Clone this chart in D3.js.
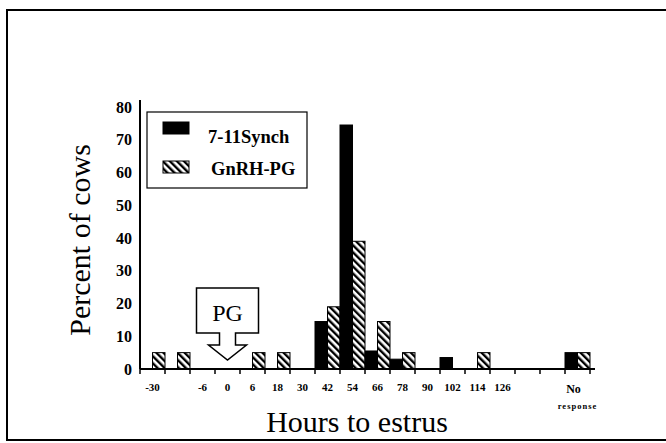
<!DOCTYPE html>
<html>
<head>
<meta charset="utf-8">
<script src="https://cdn.jsdelivr.net/npm/d3@7/dist/d3.min.js"></script>
<style>
body { margin: 0; background: #fff; }
svg { display: block; }
</style>
</head>
<body>
<svg id="chart" width="666" height="443"></svg>
<script>
var categories = ['-30', '-18', '-6', '0', '6', '18', '30', '42', '54', '66', '78', '90', '102', '114', '126', '138', '150', 'No response'];
var tickLabels = ['-30', '', '-6', '0', '6', '18', '30', '42', '54', '66', '78', '90', '102', '114', '126', '', '', 'No response'];
var seriesNames = ['7-11Synch', 'GnRH-PG'];
var synchValues = [0, 0, 0, 0, 0, 0, 0, 14.5, 74.5, 5.5, 3, 0, 3.5, 0, 0, 0, 0, 5];
var gnrhValues = [5, 5, 0, 0, 5, 5, 0, 19, 39, 14.5, 5, 0, 0, 5, 0, 0, 0, 5];
var yTicks = [0, 10, 20, 30, 40, 50, 60, 70, 80];

var svg = d3.select('#chart')
	.style('font-family', '"Liberation Serif", "Times New Roman", serif');
var serif = '"Liberation Serif", "Times New Roman", serif';

var x = d3.scaleBand().domain(categories).range([140, 590]).padding(0);
var xs = d3.scaleBand().domain(seriesNames).range([0, x.bandwidth()]).padding(0);
var y = d3.scaleLinear().domain([0, 80]).range([369, 107]);

// hatch pattern, stripes running top-left to bottom-right
var defs = svg.append('defs');
var pat = defs.append('pattern')
	.attr('id', 'hatch')
	.attr('patternUnits', 'userSpaceOnUse')
	.attr('width', 5)
	.attr('height', 5)
	.attr('patternTransform', 'rotate(-45)');
pat.append('rect').attr('width', 5).attr('height', 5).attr('fill', '#fff');
pat.append('rect').attr('x', 0).attr('width', 2.4).attr('height', 5).attr('fill', '#000');

// outer frame
svg.append('rect')
	.attr('x', 7).attr('y', 10)
	.attr('width', 670).attr('height', 430)
	.attr('fill', 'none')
	.attr('stroke', '#000')
	.attr('stroke-width', 2);

// bars
var rows = categories.map(function (c, i) {
	return [{cat: c, s: seriesNames[0], v: synchValues[i]}, {cat: c, s: seriesNames[1], v: gnrhValues[i]}];
});
var bars = [].concat.apply([], rows).filter(function (d) { return d.v > 0; });

svg.append('g').selectAll('rect')
	.data(bars)
	.enter().append('rect')
	.attr('x', function (d) { return x(d.cat) + xs(d.s); })
	.attr('y', function (d) { return y(d.v); })
	.attr('width', xs.bandwidth())
	.attr('height', function (d) { return y(0) - y(d.v); })
	.attr('fill', function (d) { return d.s === seriesNames[0] ? '#000' : 'url(#hatch)'; })
	.attr('stroke', '#000')
	.attr('stroke-width', 1);

// y axis
var yAxis = svg.append('g')
	.attr('transform', 'translate(140,0)')
	.call(d3.axisLeft(y).tickValues(yTicks).tickSize(0).tickPadding(8));
yAxis.attr('font-family', null).attr('font-size', null);
yAxis.select('.domain').attr('stroke-width', 2).attr('d', 'M0,100V369');
yAxis.selectAll('text')
	.style('font-family', serif)
	.style('font-weight', 'bold')
	.style('font-size', '16px');

// x axis
var xAxis = svg.append('g')
	.attr('transform', 'translate(0,369)');
xAxis.append('line')
	.attr('x1', 140).attr('x2', 595)
	.attr('stroke', '#000').attr('stroke-width', 2);
xAxis.selectAll('.tk')
	.data(categories.concat(['end']))
	.enter().append('line')
	.attr('class', 'tk')
	.attr('x1', function (d) { return d === 'end' ? x.range()[1] : x(d); })
	.attr('x2', function (d) { return d === 'end' ? x.range()[1] : x(d); })
	.attr('y1', 0).attr('y2', 5)
	.attr('stroke', '#000').attr('stroke-width', 1.5);

xAxis.selectAll('.lbl')
	.data(categories)
	.enter().append('text')
	.attr('class', 'lbl')
	.attr('x', function (d) { return x(d) + x.bandwidth() / 2; })
	.attr('y', 22)
	.attr('text-anchor', 'middle')
	.style('font-family', serif)
	.style('font-weight', 'bold')
	.style('font-size', '11px')
	.each(function (d, i) {
		var t = d3.select(this);
		var lab = tickLabels[i];
		if (lab === 'No response') {
			t.append('tspan').attr('x', x(d) + x.bandwidth() / 2 - 4).attr('dy', 2).style('font-size', '12px').text('No');
			t.append('tspan').attr('x', x(d) + x.bandwidth() / 2).attr('dy', 16).style('font-size', '8.5px').attr('letter-spacing', 1).text('response');
		} else {
			t.text(lab);
		}
	});

// axis titles
svg.append('text')
	.attr('transform', 'translate(90,240) rotate(-90)')
	.attr('text-anchor', 'middle')
	.style('font-family', serif)
	.style('font-size', '30px')
	.text('Percent of cows');

svg.append('text')
	.attr('x', 357).attr('y', 432)
	.attr('text-anchor', 'middle')
	.style('font-family', serif)
	.style('font-size', '30px')
	.text('Hours to estrus');

// legend
var legend = svg.append('g');
legend.append('rect')
	.attr('x', 147).attr('y', 112)
	.attr('width', 160).attr('height', 76)
	.attr('fill', '#fff')
	.attr('stroke', '#000')
	.attr('stroke-width', 1.2);
seriesNames.forEach(function (s, i) {
	legend.append('rect')
		.attr('x', 163).attr('y', 122 + i * 39)
		.attr('width', 26).attr('height', 12)
		.attr('fill', i === 0 ? '#000' : 'url(#hatch)')
		.attr('stroke', '#000');
	legend.append('text')
		.attr('x', 208 + i * 3).attr('y', 143 + i * 32)
		.style('font-family', serif)
		.style('font-weight', 'bold')
		.style('font-size', '18.5px')
		.text(s);
});

// PG arrow annotation, placed on category "0"
var cx = x('0') + x.bandwidth() / 2;
var tipY = y(0) - 9;
var arrow = [
	[cx - 31, 288], [cx + 31, 288], [cx + 31, 333], [cx + 8, 333], [cx + 8, 345],
	[cx + 19, 345], [cx, tipY], [cx - 19, 345], [cx - 8, 345], [cx - 8, 333], [cx - 31, 333]
];
svg.append('path')
	.attr('d', d3.line()(arrow) + 'Z')
	.attr('fill', '#fff')
	.attr('stroke', '#000')
	.attr('stroke-width', 1.5);
svg.append('text')
	.attr('x', cx).attr('y', 321)
	.attr('text-anchor', 'middle')
	.style('font-family', serif)
	.style('font-size', '24px')
	.text('PG');
</script>
</body>
</html>
